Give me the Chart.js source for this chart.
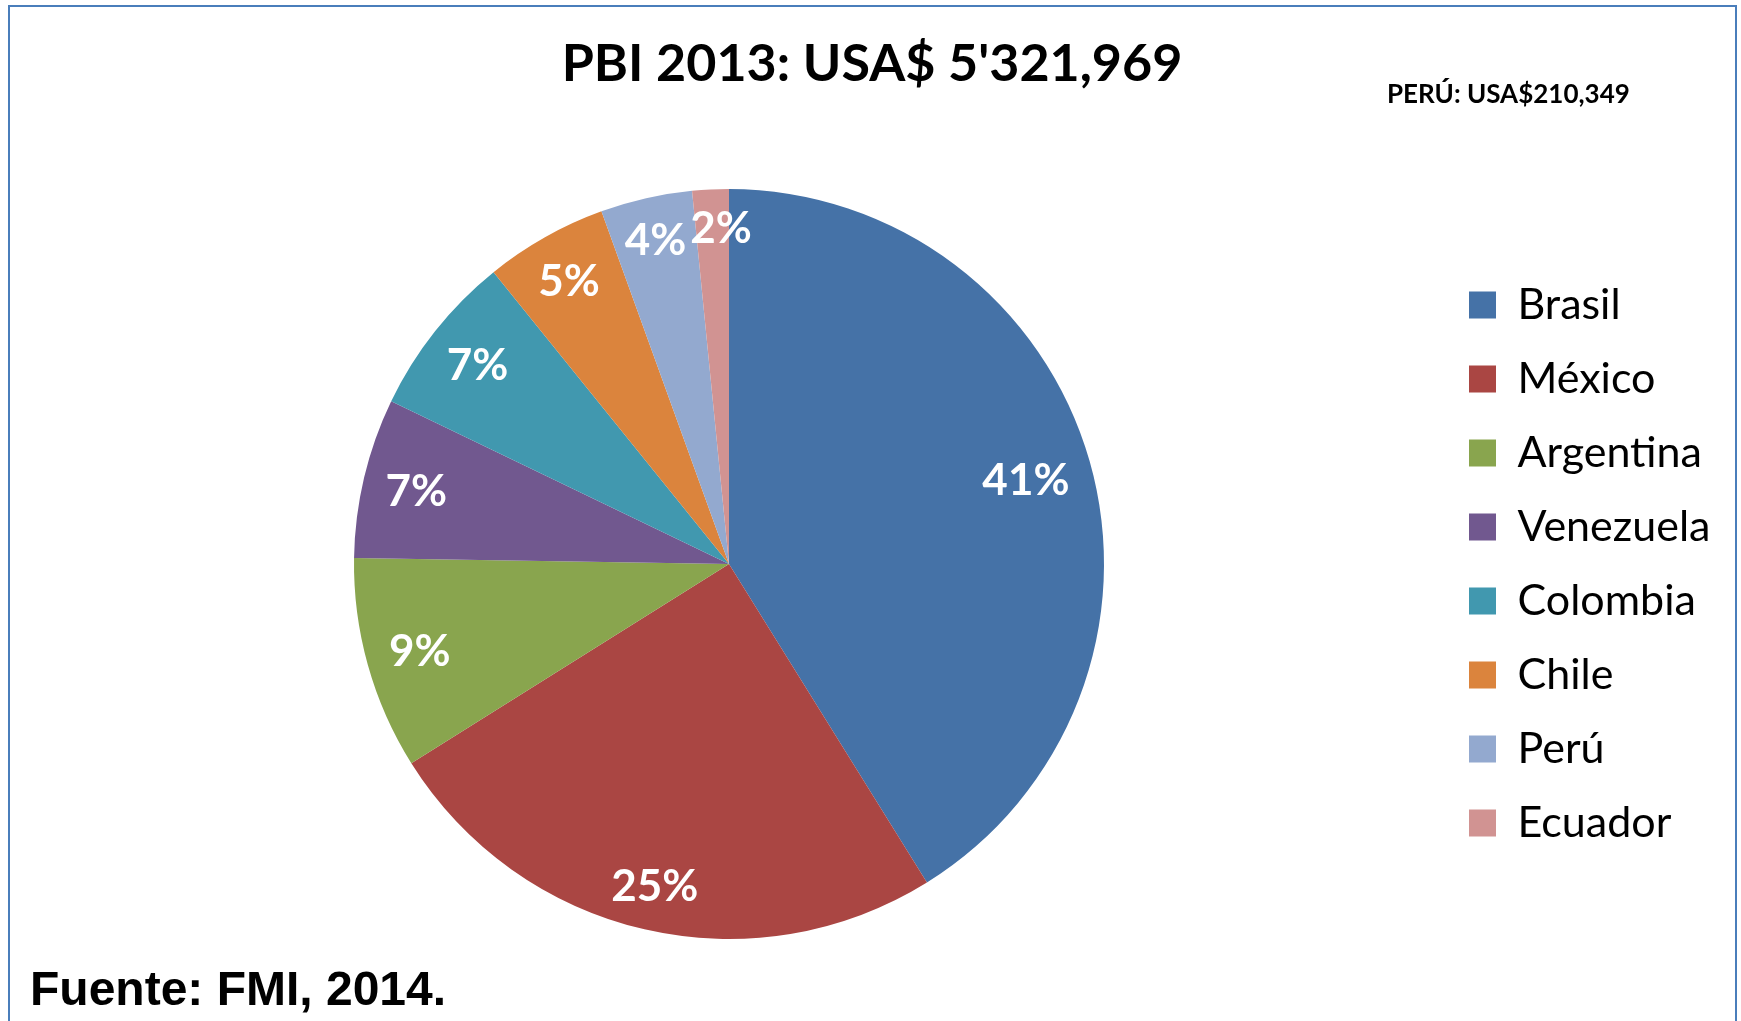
<!DOCTYPE html>
<html lang="es">
<head>
<meta charset="utf-8">
<title>PBI 2013</title>
<script src="https://cdn.jsdelivr.net/npm/chart.js@4/dist/chart.umd.min.js"></script>
<style>
    html, body {
        margin: 0;
        padding: 0;
        width: 1741px;
        height: 1021px;
        overflow: hidden;
        background: #fff;
    }
    .frame {
        position: absolute;
        left: 8px;
        top: 5px;
        width: 1729px;
        height: 1100px;
        box-sizing: border-box;
        border: 2px solid #4A7EBB;
    }
    #pieChart {
        position: absolute;
        left: 0;
        top: 0;
    }
    .title {
        position: absolute;
        left: 0;
        top: 30px;
        width: 1744px;
        text-align: center;
        font: bold 52px/1.2 Lato, sans-serif;
        color: #000;
        white-space: nowrap;
    }
    .note {
        position: absolute;
        left: 1387px;
        top: 78px;
        font: bold 26px/1.2 Lato, sans-serif;
        color: #000;
        white-space: nowrap;
    }
    .source {
        position: absolute;
        left: 30px;
        top: 960px;
        font: bold 48px/1.2 "Liberation Sans", Arial, sans-serif;
        color: #000;
        white-space: nowrap;
    }
</style>
</head>
<body>
<div class="frame"></div>
<canvas id="pieChart" width="1741" height="1021"></canvas>
<div class="title" id="chartTitle"></div>
<div class="note" id="chartNote"></div>
<div class="source" id="chartSource"></div>

<script>
// Data (PBI 2013, millones de USD)
const countries = ['Brasil', 'México', 'Argentina', 'Venezuela', 'Colombia', 'Chile', 'Perú', 'Ecuador'];
const gdpValues = [2190000, 1327000, 488000, 367000, 375000, 281000, 210349, 83620];
const sliceColors = ['#4572A7', '#AA4643', '#89A54E', '#71588F', '#4198AF', '#DB843D', '#93A9CF', '#D19392'];

const titleText = "PBI 2013: USA$ 5'321,969";
const noteText = 'PERÚ: USA$210,349';
const sourceText = 'Fuente: FMI, 2014.';

document.getElementById('chartTitle').textContent = titleText;
document.getElementById('chartNote').textContent = noteText;
document.getElementById('chartSource').textContent = sourceText;

// Where the legend squares should start (x) and pie center x
const legendX = 1469;
const pieCenterX = 729;
const legendPadding = 31;

// Percentage labels drawn inside the end of each slice
const pctLabels = {
    id: 'pctLabels',
    afterDatasetsDraw(chart) {
        const ctx = chart.ctx;
        const meta = chart.getDatasetMeta(0);
        const values = chart.data.datasets[0].data;
        const total = values.reduce((a, b) => a + b, 0);
        const size = 44;
        const capH = size * 0.72;
        ctx.save();
        ctx.font = 'bold ' + size + 'px Lato, sans-serif';
        ctx.fillStyle = '#fff';
        ctx.textAlign = 'center';
        ctx.textBaseline = 'alphabetic';
        let prev = null;
        meta.data.forEach((arc, i) => {
            const p = arc.getProps(['x', 'y', 'startAngle', 'endAngle', 'outerRadius'], true);
            const mid = (p.startAngle + p.endAngle) / 2;
            const text = Math.round(values[i] / total * 100) + '%';
            const w = ctx.measureText(text).width;
            const cos = Math.cos(mid);
            const sin = Math.sin(mid);
            const dist = p.outerRadius - 20 - Math.abs(cos) * w / 2 - Math.abs(sin) * capH / 2;
            let lx = p.x + cos * dist;
            const ly = p.y + sin * dist + capH / 2;
            // push a label sideways if it runs into the previous one
            if (prev && Math.abs(ly - prev.y) < capH && lx - w / 2 < prev.x + prev.w / 2 + 4) {
                lx = prev.x + prev.w / 2 + 4 + w / 2;
            }
            ctx.fillText(text, lx, ly);
            prev = { x: lx, y: ly, w: w };
        });
        ctx.restore();
    }
};

const ctx = document.getElementById('pieChart').getContext('2d');
const chart = new Chart(ctx, {
    type: 'pie',
    data: {
        labels: countries,
        datasets: [{
            data: gdpValues,
            backgroundColor: sliceColors,
            borderWidth: 0
        }]
    },
    options: {
        responsive: false,
        animation: false,
        layout: {
            padding: {
                left: 2 * pieCenterX - (legendX - legendPadding),
                right: 16,
                top: 189,
                bottom: 82
            }
        },
        plugins: {
            legend: {
                position: 'right',
                align: 'center',
                labels: {
                    color: '#000',
                    font: { family: 'Lato', size: 43 },
                    boxWidth: 27,
                    boxHeight: 27,
                    padding: legendPadding
                }
            },
            tooltip: { enabled: true }
        }
    },
    plugins: [pctLabels]
});

// Nudge the right padding so the legend squares land at legendX
const shift = (chart.legend.left + legendPadding) - legendX;
chart.options.layout.padding.right += shift;
chart.update();
</script>
</body>
</html>
